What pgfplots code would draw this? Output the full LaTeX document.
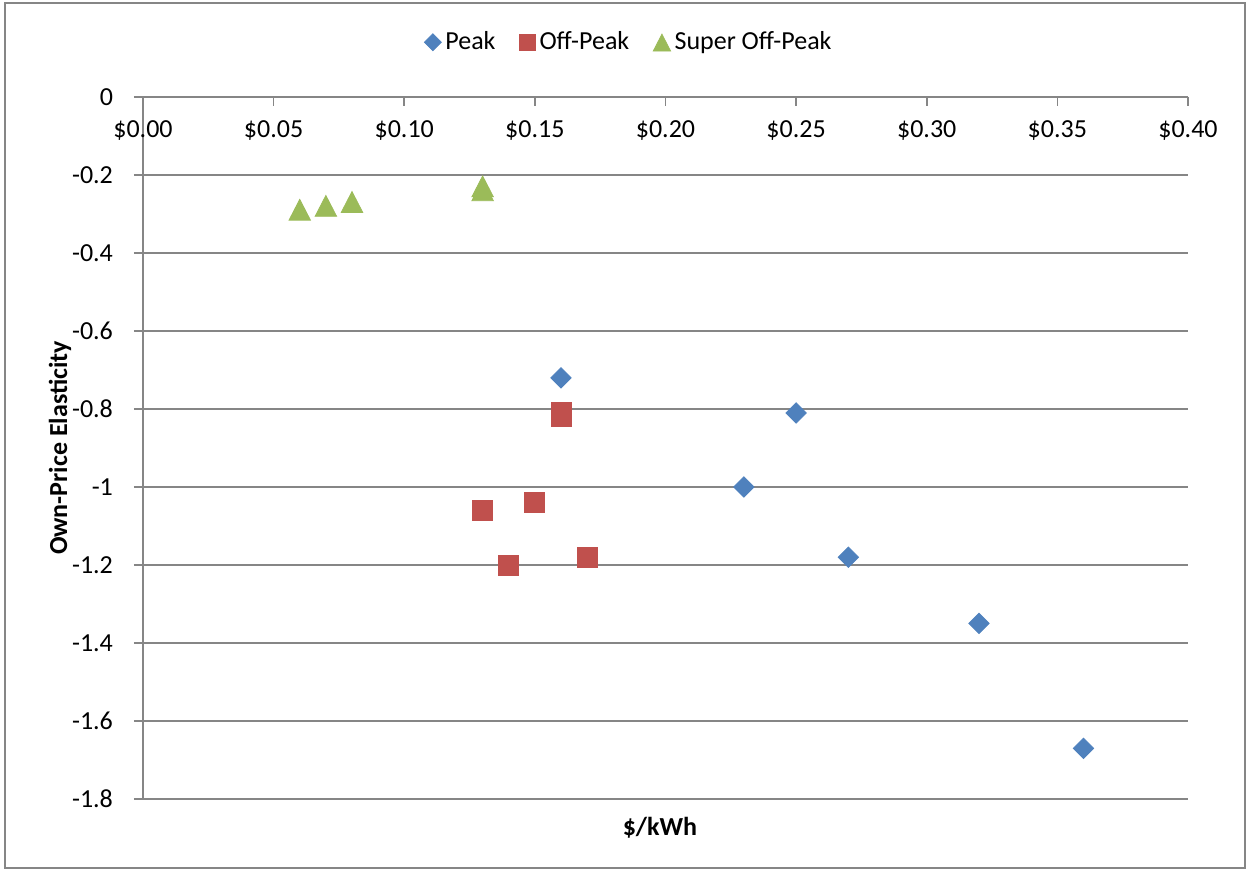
\documentclass[border=0pt]{standalone}
\usepackage{pgfplots}
\pgfplotsset{compat=1.18}
\usepackage{fontspec}
\setmainfont{Carlito}
\definecolor{peakblue}{HTML}{4F81BD}
\definecolor{offred}{HTML}{C0504D}
\definecolor{supergreen}{HTML}{9BBB59}
\definecolor{axisgray}{HTML}{868686}
% legend marker with its own size
\pgfplotsset{lgsize/.style={legend image code/.code={\draw[##1, mark size=#1] plot coordinates {(0.2cm,0cm)};}}}
\begin{document}
\fontsize{13}{15.5}\selectfont
\begin{tikzpicture}
\begin{axis}[
  at={(0pt,0pt)}, anchor=south west,
  scale only axis,
  width=522.5pt, height=351pt,
  xmin=0, xmax=0.4, ymin=-1.8, ymax=0,
  axis x line*=top, axis y line*=left,
  axis line style={axisgray, line width=0.8pt},
  xtick={0,0.05,...,0.4},
  ytick={0,-0.2,-0.4,-0.6,-0.8,-1,-1.2,-1.4,-1.6,-1.8},
  xtick align=inside, ytick align=outside,
  major tick length=4.5pt,
  tick style={axisgray, line width=0.8pt},
  ymajorgrids,
  grid style={axisgray, line width=0.8pt},
  /pgf/number format/assume math mode=true,
  xticklabel={\$\pgfmathprintnumber[fixed,fixed zerofill,precision=2]{\tick}},
  xticklabel style={anchor=center, yshift=-17pt, font=\fontsize{13}{15.5}\selectfont},
  yticklabel style={anchor=east, xshift=-6pt, font=\fontsize{13}{15.5}\selectfont},
  xlabel={\textbf{\$/kWh}},
  ylabel={\textbf{Own-Price Elasticity}},
  xlabel style={at={(axis description cs:0.4947,-0.0413)}, anchor=center, font=\fontsize{13}{15.5}\selectfont},
  ylabel style={at={(axis description cs:-0.0794,0.5)}, anchor=center, rotate=0, font=\fontsize{13}{15.5}\selectfont},
  legend style={at={(axis description cs:0.466,1.078)}, anchor=center,
    draw=none, fill=none, font=\fontsize{13}{15.5}\selectfont,
    /tikz/every even column/.append style={column sep=10pt}},
  legend columns=-1,
  clip=false,
]
% Peak period prices and elasticities
\addplot[only marks, mark=square*, mark size=3.6pt,
  mark options={rotate=45, fill=peakblue, draw=peakblue}, lgsize=3pt]
  coordinates {(0.16,-0.72) (0.25,-0.81) (0.23,-1.00) (0.27,-1.18) (0.32,-1.35) (0.36,-1.67)};
\addlegendentry{Peak}
% Off-peak period
\addplot[only marks, mark=square*, mark size=5pt,
  mark options={fill=offred, draw=offred}, lgsize=4pt]
  coordinates {(0.16,-0.81) (0.16,-0.82) (0.13,-1.06) (0.15,-1.04) (0.14,-1.20) (0.17,-1.18)};
\addlegendentry{Off-Peak}
% Super off-peak period
\addplot[only marks, mark=triangle*, mark size=6.2pt,
  mark options={fill=supergreen, draw=supergreen, yshift=-1.6pt, yscale=1.12}, lgsize=5pt]
  coordinates {(0.06,-0.29) (0.07,-0.28) (0.08,-0.27) (0.13,-0.23) (0.13,-0.24)};
\addlegendentry{Super Off-Peak}
\end{axis}
% chart frame
\draw[axisgray, line width=0.8pt] (-69pt,-34.5pt) rectangle (551pt,398pt);
\path[use as bounding box] (-71.5pt,-36pt) rectangle (553.5pt,399.5pt);
\end{tikzpicture}
\end{document}
